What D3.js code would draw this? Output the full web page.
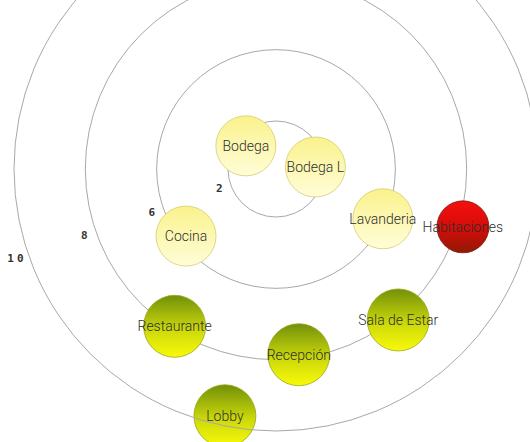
<!DOCTYPE html>
<html>
<head>
<meta charset="utf-8">
<script src="https://cdn.jsdelivr.net/npm/d3@7"></script>
<style>
  body { margin: 0; background: #fff; }
  .ring { fill: none; stroke: #a8a8a8; stroke-width: 1; }
  .ring-label { font-family: "DejaVu Sans Mono", monospace; font-weight: bold; font-size: 11px; fill: #333; }
  .node-label { font-family: Roboto, "Open Sans", sans-serif; font-weight: 300; font-size: 14px; fill: #2e2e2e; }
</style>
</head>
<body>
<div id="chart"></div>
<script>
// rings of the diagram (label shown, level = order from centre)
var ringLabels = ["2", "6", "8", "10"];
var ringLevels = [1, 2, 3, 4];

// areas: name, angle (degrees, 0 = right, clockwise), distance in ring levels, group
var names  = ["Bodega", "Bodega L", "Lavanderia", "Cocina", "Habitaciones", "Restaurante", "Recepción", "Sala de Estar", "Lobby"];
var angles = [-142.5, -2.9, 25, 143.3, 17.2, 122.8, 83, 51, 101.7];
var levels = [0.86, 0.88, 1.98, 1.90, 3.07, 2.95, 2.95, 3.05, 3.86];
var groups = ["servicio", "servicio", "servicio", "servicio", "privado", "publico", "publico", "publico", "publico"];

var width = 530, height = 442;
var cx = 276, cy = 169;

// level -> radius
var r = d3.scaleLinear()
          .domain([1, 4])
          .range([48, 262]);

var bubbleR = {servicio: 30, publico: 31, privado: 26};
var grad = {
  servicio: [["0%", "#faf28c"], ["100%", "#fffdd8"]],
  publico:  [["0%", "#72900a"], ["55%", "#cbd80a"], ["100%", "#fafa08"]],
  privado:  [["0%", "#f41010"], ["55%", "#d40c08"], ["100%", "#8e1a06"]]
};
var strokes = {servicio: "#d6cc70", publico: "#9aa820", privado: "#7a1a10"};

var svg = d3.select("#chart").append("svg")
    .attr("width", width)
    .attr("height", height);

var defs = svg.append("defs");
Object.keys(grad).forEach(function(k){
  var g = defs.append("linearGradient")
              .attr("id", "g-" + k)
              .attr("x1", 0).attr("y1", 0)
              .attr("x2", 0).attr("y2", 1);
  grad[k].forEach(function(s){
    g.append("stop").attr("offset", s[0]).attr("stop-color", s[1]);
  });
});

var g = svg.append("g").attr("transform", "translate(" + cx + "," + cy + ")");

var rings = ringLevels.map(function(l, i){ return {level: l, label: ringLabels[i]}; });

// inner rings sit behind the bubbles
g.selectAll("circle.ring.back")
 .data(rings.slice(0, 3))
 .enter().append("circle")
 .attr("class", "ring back")
 .attr("r", function(d){ return r(d.level); });

// ring labels, lower left of each ring
var labelAngle = 161 * Math.PI / 180;
g.selectAll("text.ring-label")
 .data(rings)
 .enter().append("text")
 .attr("class", "ring-label")
 .attr("x", function(d){ return (r(d.level) + 12) * Math.cos(labelAngle); })
 .attr("y", function(d){ return (r(d.level) + 12) * Math.sin(labelAngle); })
 .attr("dy", "0.35em")
 .attr("text-anchor", "middle")
 .style("letter-spacing", function(d){ return d.label.length > 1 ? "3px" : "0px"; })
 .text(function(d){ return d.label; });

var nodes = names.map(function(n, i){
  var a = angles[i] * Math.PI / 180;
  return {
    name: n,
    group: groups[i],
    x: r(levels[i]) * Math.cos(a),
    y: r(levels[i]) * Math.sin(a)
  };
});

var node = g.selectAll("g.node")
  .data(nodes)
  .enter().append("g")
  .attr("class", "node")
  .attr("transform", function(d){ return "translate(" + d.x + "," + d.y + ")"; });

node.append("circle")
    .attr("r", function(d){ return bubbleR[d.group]; })
    .attr("fill", function(d){ return "url(#g-" + d.group + ")"; })
    .attr("stroke", function(d){ return strokes[d.group]; })
    .attr("stroke-width", 0.8);

// outer ring is drawn over the bubbles
g.append("circle")
 .attr("class", "ring")
 .attr("r", r(rings[3].level));

node.append("text")
    .attr("class", "node-label")
    .attr("text-anchor", "middle")
    .attr("dy", "0.35em")
    .text(function(d){ return d.name; });
</script>
</body>
</html>
